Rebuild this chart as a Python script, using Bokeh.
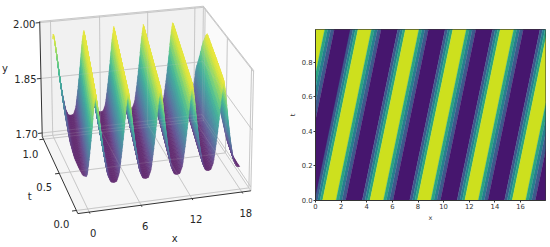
import numpy as np
from bokeh.plotting import figure
from bokeh.layouts import row, column
from bokeh.models import Range1d, FixedTicker
from bokeh.palettes import Viridis256
from bokeh.embed import file_html
from bokeh.resources import INLINE

# ---- values ----
profile_phase = [-1.7, -1.4, -1.1, -0.8, -0.5, -0.25, 0.0, 0.25, 0.55, 0.9, 1.3, 1.65, 2.0]
profile_y = [1.75, 1.752, 1.77, 1.82, 1.88, 1.94, 1.98, 1.94, 1.88, 1.82, 1.77, 1.752, 1.75]
peak_x_at_t0 = [-2.6, 1.05, 4.75, 8.45, 12.15, 15.85, 19.55]
peak_speed = 2.8
x_max = 17.95
t_max = 0.988
band_levels = [1.77, 1.805, 1.84, 1.88]
band_colors = ["#46166e", "#3d5a8c", "#26808e", "#2ba580", "#cde01e"]
xticks3d = [0, 6, 12, 18]
tticks3d = [0.0, 0.5, 1.0]
yticks3d = [1.70, 1.85, 2.00]
xticks2d = list(range(0, 17, 2))
tticks2d = [0.0, 0.2, 0.4, 0.6, 0.8]

# 3D box limits
xlim = (-1.3, 19.1)
tlim = (-0.04, 1.04)
ylim = (1.69, 2.003)
# where the box corners fall in the left panel (u, v, w) -> pixel
cam_uvw = [(0,0,0),(1,0,0),(0,1,0),(1,1,0),(0,1,1),(1,1,1),(1,0,1)]
cam_px = [(77.3,212.7),(250,190.7),(41.7,136.7),(202,117),(39.3,20.7),(202.5,6),(253.5,70)]

def solve_camera():
    A, b = [], []
    for (u,v,w),(px,py) in zip(cam_uvw, cam_px):
        A.append([u,v,w,1,0,0,0,0,-px*u,-px*v,-px*w]); b.append(px)
        A.append([0,0,0,0,u,v,w,1,-py*u,-py*v,-py*w]); b.append(py)
    h = np.linalg.lstsq(np.array(A,float), np.array(b,float), rcond=None)[0]
    return np.append(h,1).reshape(3,4)
CAM = solve_camera()

def project(x, t, y):
    x,t,y = np.asarray(x,float),np.asarray(t,float),np.asarray(y,float)
    u=(x-xlim[0])/(xlim[1]-xlim[0]); v=(t-tlim[0])/(tlim[1]-tlim[0]); w=(y-ylim[0])/(ylim[1]-ylim[0])
    q=np.stack([u,v,w,np.ones_like(u)],-1)@CAM.T
    return q[...,0]/q[...,2], q[...,1]/q[...,2], q[...,2]

def surf(x,t):
    period = peak_x_at_t0[2]-peak_x_at_t0[1]
    ph = (x - peak_speed*t - peak_x_at_t0[1] + 1.7) % period - 1.7
    return np.interp(ph, profile_phase, profile_y)

def lighten(hexc, f=0.18):
    r,g,b=[int(hexc[i:i+2],16) for i in (1,3,5)]
    return "#%02x%02x%02x"%tuple(int(c+(245-c)*f) for c in (r,g,b))

# ---- left: 3D panel ----
FONT = "DejaVu Sans"
p1 = figure(width=285, height=247, x_range=Range1d(0,285), y_range=Range1d(247,0),
            output_backend="svg", toolbar_location=None, min_border=0,
            outline_line_color=None, background_fill_color="white", border_fill_color="white")
p1.axis.visible=False; p1.grid.visible=False

def poly3(pts):
    a=np.array(pts,float); px,py,_=project(a[:,0],a[:,1],a[:,2]); return list(px),list(py)
x0,x1=xlim; t0,t1=tlim; y0,y1=ylim
panes=[([(x0,t1,y0),(x1,t1,y0),(x1,t1,y1),(x0,t1,y1)],"#f1f1f1"),
       ([(x0,t0,y0),(x1,t0,y0),(x1,t1,y0),(x0,t1,y0)],"#f5f5f5"),
       ([(x1,t0,y0),(x1,t1,y0),(x1,t1,y1),(x1,t0,y1)],"#fafafa")]
for pts,c in panes:
    px,py=poly3(pts); p1.patch(px,py,fill_color=c,line_color=None)
GRID="#c4c4c4"
lines=[]
for v in xticks3d: lines.append([(v,t0,y0),(v,t1,y0),(v,t1,y1)])
for v in tticks3d: lines.append([(x0,v,y0),(x1,v,y0),(x1,v,y1)])
for v in yticks3d: lines.append([(x0,t1,v),(x1,t1,v),(x1,t0,v)])
lines.append([(x0,t1,y1),(x1,t1,y1),(x1,t0,y1),(x1,t0,y0)])
lines.append([(x1,t1,y1),(x1,t1,y0)])
lines.append([(x0,t1,y0),(x1,t1,y0),(x1,t0,y0)])
gx,gy=zip(*[poly3(l) for l in lines])
p1.multi_line(list(gx),list(gy),line_color=GRID,line_width=0.9)

# surface
xs=np.arange(0,x_max+1e-6,0.08); ts=np.linspace(0,t_max,36)
X,T=np.meshgrid(xs,ts); Y=surf(X,T); PX,PY,PW=project(X,T,Y)
lo,hi=min(profile_y),max(profile_y)
qx,qy,qc,qd=[],[],[],[]
for j in range(len(ts)-1):
    for i in range(len(xs)-1):
        qx.append([PX[j,i],PX[j,i+1],PX[j+1,i+1],PX[j+1,i]])
        qy.append([PY[j,i],PY[j,i+1],PY[j+1,i+1],PY[j+1,i]])
        m=(Y[j,i]+Y[j,i+1]+Y[j+1,i+1]+Y[j+1,i])/4
        qc.append(lighten(Viridis256[int(np.clip((m-lo)/(hi-lo),0,1)*255)]))
        qd.append((PW[j,i]+PW[j+1,i+1])/2)
order=np.argsort(qd)[::-1]
p1.patches([qx[k] for k in order],[qy[k] for k in order],fill_color=[qc[k] for k in order],
           line_color=[qc[k] for k in order],line_width=0.5)
# grid faintly showing through the translucent surface
p1.multi_line(list(gx),list(gy),line_color=GRID,line_width=0.9,line_alpha=0.18)

# axis lines & ticks
ax=[[(x0,t0,y0),(x1,t0,y0)],[(x0,t0,y0),(x0,t1,y0)],[(x0,t1,y0),(x0,t1,y1)]]
ax3=[poly3(l) for l in ax]
p1.multi_line([a[0] for a in ax3],[a[1] for a in ax3],line_color="#333333",line_width=1)
tk=[]
for v in xticks3d: tk.append([(v,t0,y0),(v,t0-0.02,y0)])
for v in tticks3d: tk.append([(x0,v,y0),(x0-0.5,v,y0)])
for v in yticks3d: tk.append([(x0,t1,v),(x0-0.5,t1,v)])
tk3=[poly3(l) for l in tk]
p1.multi_line([a[0] for a in tk3],[a[1] for a in tk3],line_color="#333333",line_width=1)

def label(x,y,txt,angle=0):
    p1.text([x],[y],text=[txt],text_font={"value":FONT},text_font_size="10px",text_color="#262626",
            text_align="center",text_baseline="middle",angle=angle)
def lab3(v3,dx,dy,txt):
    a,b,_=project(*v3); label(float(a)+dx,float(b)+dy,txt)
for v,s in zip(xticks3d,["0","6","12","18"]): lab3((v,t0,y0),4,20.5,s)
for v,s,d in zip(tticks3d,["0.0","0.5","1.0"],[(-15,13.5),(-15,14),(-13,15)]): lab3((x0,v,y0),d[0],d[1],s)
for v,s in zip(yticks3d,["1.70","1.85","2.00"]): lab3((x0,t1,v),-15.5,1,s)
lab3((9,t0,y0),8,37,"x")
lab3((x0,0.25,y0),-38,5,"t")
lab3((x0,t1,1.86),-36,-6,"y")

# ---- right: contour panel ----
p2 = figure(width=265, height=247, x_range=Range1d(0,x_max), y_range=Range1d(0,t_max),
            output_backend="svg", toolbar_location=None,
            min_border_left=29, min_border_right=5,
            min_border_top=29, min_border_bottom=47, border_fill_color="white")
p2.grid.visible=False
rise_ph=[float(np.interp(l,profile_y[:7],profile_phase[:7])) for l in band_levels]
fall_ph=[float(np.interp(l,profile_y[6:][::-1],profile_phase[6:][::-1])) for l in band_levels]
edges=rise_ph+fall_ph[::-1]+[rise_ph[0]+peak_x_at_t0[2]-peak_x_at_t0[1]]
cols=[band_colors[1],band_colors[2],band_colors[3],band_colors[4],band_colors[3],band_colors[2],band_colors[1],band_colors[0]]
bx,by,bc=[],[],[]
for pk in peak_x_at_t0:
    for a,b,c in zip(edges[:-1],edges[1:],cols):
        bx.append([pk+a,pk+b,pk+b+peak_speed*t_max,pk+a+peak_speed*t_max])
        by.append([0,0,t_max,t_max]); bc.append(c)
p2.patches(bx,by,fill_color=bc,line_color=bc,line_width=0.3)
p2.xaxis.ticker=FixedTicker(ticks=xticks2d); p2.yaxis.ticker=FixedTicker(ticks=tticks2d)
p2.yaxis.major_label_overrides={v:f"{v:.1f}" for v in tticks2d}
for a,name in ((p2.xaxis,"x"),(p2.yaxis,"t")):
    a.axis_label=name; a.axis_label_text_font=FONT; a.axis_label_text_font_size="6.5px"
    a.axis_label_text_font_style="normal"; a.axis_label_text_color="#333333"
    a.major_label_text_font=FONT; a.major_label_text_font_size="6.8px"; a.major_label_text_color="#333333"
    a.major_tick_out=2; a.major_tick_in=0; a.minor_tick_out=0; a.minor_tick_in=0
    a.axis_label_standoff=2; a.major_label_standoff=1
    a.axis_line_color="#333333"; a.major_tick_line_color="#333333"
p2.yaxis.major_label_orientation="horizontal"
p2.outline_line_color="#333333"

page=row(column(p1),column(p2),spacing=0)
open("out.html","w").write(file_html(page,INLINE))
